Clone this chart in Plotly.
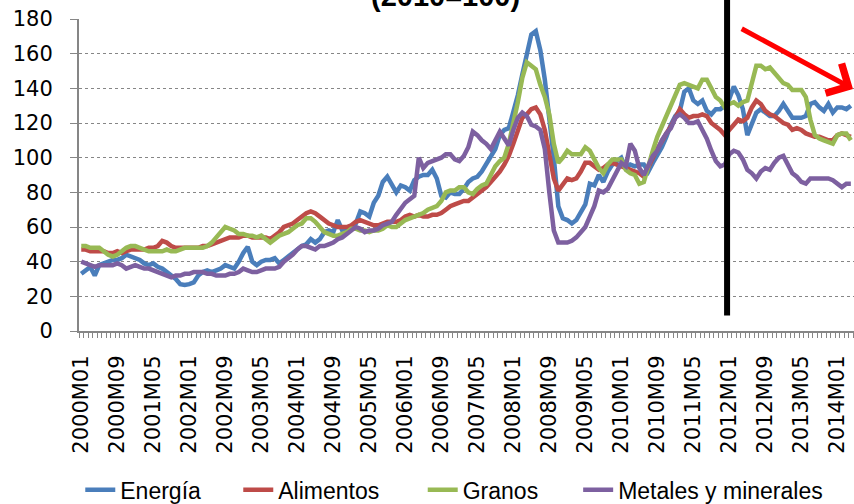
import plotly.graph_objects as go

# monthly periods 2000M01 .. 2014M04
years = list(range(2000, 2015))
months = [f"{y}M{m:02d}" for y in years for m in range(1, 13)][:172]

energia = [
    33, 35, 37, 32, 38, 39, 40, 41, 41, 42,
    44, 43, 42, 41, 39, 38, 39, 37, 36, 34,
    32, 30, 27, 26.5, 27, 28, 32, 34, 35, 34,
    35, 36, 38, 37, 36, 40, 45, 48.5, 40, 38,
    40, 41, 41, 42, 39, 41, 43, 45, 47, 49,
    50, 53, 51, 53, 57, 58, 57, 64, 58, 58,
    59, 62, 69, 68, 66, 74, 78, 86, 89, 85,
    80, 84, 83, 81, 87, 89, 90, 90, 93, 88,
    78, 77, 80, 79, 79, 82, 86, 88, 89, 92,
    96, 100, 105, 113, 116, 117, 126, 136, 148, 161,
    171, 173, 162, 145, 125, 100, 72, 65, 64, 62,
    64, 68, 73, 85, 84, 90, 86, 92, 96, 98,
    100, 94, 96, 95, 96, 96, 92, 97, 101, 106,
    112, 119, 124, 127, 138, 140, 133, 131, 133, 127,
    125, 128, 128, 130, 134, 141, 136, 128, 113, 120,
    126, 128, 126, 124, 124, 127, 131, 127, 123, 123,
    123, 124, 131, 132, 129, 127, 131, 126, 129, 129, 128, 130,
]
alimentos = [
    47, 47, 46, 46, 46, 46, 45, 45, 46, 45,
    46, 47, 47, 47, 47, 48, 48, 49, 52, 51,
    49, 48, 48, 48, 48, 48, 48, 49, 49, 50,
    51, 52, 53, 54, 54, 54, 55, 55, 54, 54,
    54, 54, 53, 55, 57, 60, 61, 62, 64, 66,
    68, 69, 68, 66, 64, 62, 61, 60, 60, 60,
    61, 63, 64, 63, 62, 61, 61, 62, 63, 63,
    63, 64, 66, 67, 66, 67, 66, 66, 67, 67,
    68, 70, 72, 73, 74, 75, 75, 77, 79, 81,
    83, 86, 89, 92, 96, 101, 108, 115, 123, 125,
    128, 129, 125, 116, 102, 88, 81, 85, 88, 87,
    88, 92, 97, 97, 95, 93, 94, 96, 97, 96,
    95, 94, 93, 92, 91, 89, 95, 100, 105, 110,
    114, 118, 123, 128, 125, 123, 124, 124, 125, 124,
    120, 118, 116, 113, 116, 119, 122, 121, 123, 129,
    133, 131, 127, 125, 124, 122, 120, 119, 116, 117,
    116, 114, 113, 112, 112, 111, 110, 110, 113, 114, 113, 112,
]
granos = [
    49, 49, 48, 48, 48, 46, 44, 43, 44, 46,
    48, 49, 49, 48, 47, 46, 46, 46, 46, 47,
    46, 46, 47, 48, 48, 48, 48, 48, 49, 51,
    54, 57, 60, 59, 58, 56, 56, 55, 55, 54,
    55, 53, 51, 53, 55, 56, 57, 59, 61, 62,
    65, 65, 63, 60, 57, 56, 55, 55, 56, 57,
    59, 59, 58, 58, 57, 58, 58, 59, 61, 60,
    60, 62, 64, 65, 66, 67, 68, 70, 71, 72,
    75, 80, 81, 81, 83, 83, 80, 79, 82, 84,
    85, 90, 95, 98, 100, 108, 119, 132, 146, 155,
    153, 151, 142, 135, 125, 108, 97, 100, 104, 102,
    102, 102, 106, 104, 99, 94, 91, 96, 99, 99,
    99, 93, 91, 90, 85, 86, 96, 104, 112, 118,
    124, 130, 137, 142, 143, 142, 141, 140, 145, 145,
    140, 135, 133, 129, 131, 132, 130, 132, 133, 143,
    153, 153, 151, 152, 149, 146, 143, 142, 139, 139,
    139, 135, 122, 113, 111, 110, 109, 108, 113, 114, 114, 110,
]
metales = [
    40, 39, 38, 37, 38, 38, 38, 38, 39, 38,
    36, 37, 38, 37, 36, 36, 35, 34, 33, 32,
    31, 32, 32, 33, 33, 34, 34, 34, 33, 33,
    32, 32, 32, 33, 33, 34, 36, 35, 34, 34,
    35, 36, 36, 36, 37, 40, 42, 44, 47, 49,
    49, 48, 47, 49, 49, 50, 51, 53, 54, 56,
    58, 60, 59, 57, 58, 58, 59, 61, 62, 63,
    67, 71, 74, 76, 78, 100, 94, 97, 98, 99,
    100, 102, 102, 99, 98, 101, 106, 115, 113, 110,
    108, 105, 110, 115, 111, 107, 116, 123, 126, 124,
    119, 118, 116, 105, 80, 58, 51, 51, 51, 52,
    54, 57, 60, 66, 72, 81, 80, 82, 87, 92,
    97, 95, 108, 104, 94, 90, 96, 101, 104, 110,
    114, 117, 123, 125, 123, 120, 120, 121, 116, 111,
    104, 98, 95, 96, 102, 104, 103, 99, 93, 91,
    88, 92, 94, 93, 97, 100, 101, 96, 91, 89,
    86, 85, 88, 88, 88, 88, 88, 87, 85, 83, 85, 85,
]

series = [
    ("Energía", energia, "#4A7EBB"),
    ("Alimentos", alimentos, "#BE4B48"),
    ("Granos", granos, "#98B954"),
    ("Metales y minerales", metales, "#7D60A0"),
]
# left edge of each legend entry (container fraction)
legend_x = [0.094, 0.279, 0.495, 0.677]

x = list(range(len(months)))
label_step = 8
break_month = "2012M01"

fig = go.Figure()
legends = {}
for k, ((name, vals, color), lx) in enumerate(zip(series, legend_x)):
    key = "legend" if k == 0 else f"legend{k + 1}"
    fig.add_trace(go.Scatter(
        x=x, y=vals, name=name, mode="lines",
        line=dict(color=color, width=4.5),
        legend=key,
        customdata=months,
        hovertemplate="%{customdata}: %{y}<extra>" + name + "</extra>",
    ))
    legends[key] = dict(
        xref="container", yref="container", x=lx, y=0.028,
        xanchor="left", yanchor="middle", orientation="h",
        font=dict(family="Liberation Sans", size=23, color="black"),
        bgcolor="rgba(0,0,0,0)",
    )

# thick black separator between 2011 and 2012
bx = months.index(break_month) - 0.5
fig.add_shape(type="line", xref="x", yref="paper",
              x0=bx, x1=bx, y0=0.05, y1=1.07,
              line=dict(color="black", width=6))

# red downward-trend arrow (cut off at the right edge)
fig.add_annotation(xref="paper", yref="paper", x=1.008, y=0.776,
                   ax=-120, ay=-61, axref="pixel", ayref="pixel",
                   text="", showarrow=True, arrowhead=4, arrowsize=1.3,
                   arrowwidth=5, arrowcolor="#FF0000")

# partially visible title line
fig.add_annotation(xref="paper", yref="paper", x=0.473, y=1.015,
                   xanchor="center", yanchor="bottom", showarrow=False,
                   text="<b>(2010=100)</b>",
                   font=dict(family="Liberation Sans", size=29, color="black"))

fig.update_layout(
    width=854, height=504,
    margin=dict(l=79, r=0, t=19, b=173),
    plot_bgcolor="white", paper_bgcolor="white",
    font=dict(family="DejaVu Sans", color="black"),
    showlegend=True,
    xaxis=dict(
        range=[-0.5, len(months) - 0.3],
        tickmode="array", tickvals=x[::label_step], ticktext=months[::label_step],
        tickangle=-90, tickfont=dict(size=21),
        ticks="", showgrid=False, zeroline=False,
        showline=True, linecolor="#868686", linewidth=2,
        minor=dict(ticks="outside", tick0=-0.5, dtick=1, ticklen=5,
                   tickcolor="#868686", showgrid=False),
        ticklabelstandoff=14,
    ),
    yaxis=dict(
        range=[0, 180], dtick=20, tickfont=dict(size=21),
        showgrid=True, gridcolor="#868686", griddash="dot", gridwidth=1,
        zeroline=False, showline=True, linecolor="#868686", linewidth=2,
        ticks="outside", ticklen=7, tickcolor="#868686",
        ticklabelstandoff=13,
    ),
    **legends,
)

# the page body has a default 8px margin; remove it so the figure fills the window
fig.write_html("out.html", config={"displayModeBar": False},
               post_script="document.body.style.margin = '0px';")
